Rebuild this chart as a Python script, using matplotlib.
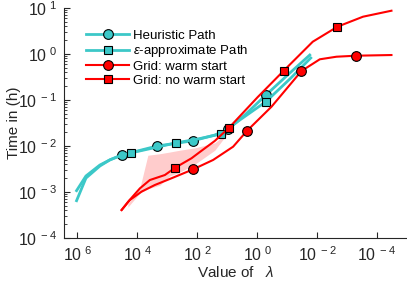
import matplotlib
matplotlib.use("Agg")
import matplotlib.pyplot as plt
import numpy as np

# data (lambda on x, hours on y)
heur_lam = [1.05e6, 5.1e5, 1.75e5, 8.1e4, 3.3e4, 2.15e3, 136, 25.7, 9.3, 2.57, 0.51, 0.081, 0.0175]
heur_time = [1.07e-3, 2.23e-3, 3.86e-3, 5.0e-3, 6.37e-3, 1.0e-2, 1.30e-2, 1.73e-2, 2.31e-2, 4.72e-2, 0.128, 0.386, 0.95]
heur_marks = [4, 5, 6, 8, 10]

eps_lam = [1.05e6, 5.1e5, 1.75e5, 8.1e4, 3.3e4, 1.66e4, 525, 95, 16.6, 3.78, 0.51, 0.081, 0.0162]
eps_time = [6.47e-4, 2.01e-3, 3.67e-3, 5.0e-3, 6.3e-3, 7.05e-3, 1.16e-2, 1.42e-2, 1.82e-2, 3.67e-2, 9.18e-2, 0.286, 0.82]
eps_marks = [5, 6, 8, 10]

warm_lam = [3.3e4, 1.75e4, 7.1e3, 2.57e3, 713, 136, 29.3, 6.3, 2.15, 0.331, 0.0331, 8.1e-3, 2.25e-3, 5.1e-4, 3.3e-5]
warm_time = [4.06e-4, 6.70e-4, 1.02e-3, 1.42e-3, 1.99e-3, 3.11e-3, 4.97e-3, 9.66e-3, 2.15e-2, 7.14e-2, 0.427, 0.767, 0.873, 0.918, 0.95]
warm_marks = [5, 8, 10, 13]

cold_lam = [3.3e4, 2.0e4, 8.1e3, 3.78e3, 1.19e3, 541, 154, 81, 25.7, 8.6, 0.95, 0.129, 0.0139, 2.09e-3, 2.93e-4, 3.3e-5]
cold_time = [4.06e-4, 6.15e-4, 1.20e-3, 1.82e-3, 2.34e-3, 3.37e-3, 5.41e-3, 7.41e-3, 1.29e-2, 2.50e-2, 0.116, 0.434, 1.85, 3.92, 6.47, 8.73]
cold_marks = [5, 9, 11, 13]

band_lam = [2.04e4, 8.1e3, 4.4e3, 1.74e3, 813, 380, 120, 25.7, 9.5]
band_lo = [4.7e-4, 9.5e-4, 1.17e-3, 1.41e-3, 2.24e-3, 2.7e-3, 4.0e-3, 8.1e-3, 1.9e-2]
band_hi = [5.5e-4, 1.23e-3, 6.3e-3, 6.8e-3, 7.4e-3, 8.1e-3, 9.1e-3, 1.17e-2, 2.0e-2]

xticks = [1e6, 1e4, 1e2, 1e0, 1e-2, 1e-4]
yticks = [1e-4, 1e-3, 1e-2, 1e-1, 1e0, 1e1]

plt.rcParams["font.family"] = ["Liberation Sans", "DejaVu Sans"]
plt.rcParams["mathtext.fontset"] = "custom"
plt.rcParams["mathtext.rm"] = "Liberation Sans"
plt.rcParams["mathtext.it"] = "Liberation Sans:italic"

cyan = "#3cc8c8"
red = "#ff0000"
ink = "#262626"

fig = plt.figure(figsize=(4.07, 2.86), dpi=100)
ax = fig.add_axes([64 / 407, 48 / 286, 343 / 407, 230 / 286])

ax.fill_between(band_lam, band_lo, band_hi, color=red, alpha=0.2, lw=0)

ax.plot(heur_lam, heur_time, color=cyan, lw=2, marker="o", ms=7, mfc=cyan, mec="k",
        mew=0.8, markevery=heur_marks, label="Heuristic Path")
ax.plot(eps_lam, eps_time, color=cyan, lw=2, marker="s", ms=6, mfc=cyan, mec="k",
        mew=0.8, markevery=eps_marks, label=r"$\epsilon$-approximate Path")
ax.plot(warm_lam, warm_time, color=red, lw=1.5, marker="o", ms=7, mfc=red, mec="k",
        mew=0.8, markevery=warm_marks, label="Grid: warm start")
ax.plot(cold_lam, cold_time, color=red, lw=1.5, marker="s", ms=6, mfc=red, mec="k",
        mew=0.8, markevery=cold_marks, label="Grid: no warm start")

ax.set_xscale("log")
ax.set_yscale("log")
ax.set_xlim(10 ** 6.44, 1e-5)
ax.set_ylim(1e-4, 1e1)

ax.set_xticks(xticks)
ax.set_xticklabels([r"$\mathregular{10^{\ %d}}$" % round(np.log10(v)) for v in xticks])
ax.xaxis.set_minor_locator(matplotlib.ticker.NullLocator())
ax.set_yticks(yticks)
ax.set_yticklabels([r"$\mathregular{10^{\ %d}}$" % round(np.log10(v)) for v in yticks])

for s in ["top", "right"]:
    ax.spines[s].set_visible(False)
for s in ["left", "bottom"]:
    ax.spines[s].set_color(ink)
    ax.spines[s].set_linewidth(0.8)

ax.tick_params(which="major", direction="in", length=4, width=0.8, labelsize=11.5,
               colors=ink, pad=5)
ax.tick_params(which="minor", direction="in", length=2, width=0.6, colors=ink)

ax.set_xlabel(r"Value of   $\lambda$", fontsize=11, color=ink, labelpad=1)
ax.set_ylabel("Time in (h)", fontsize=11, color=ink)
ax.yaxis.set_label_coords(-0.125, 0.5)

ax.legend(loc="upper left", bbox_to_anchor=(0.05, 0.93), frameon=False, fontsize=9.5,
          handlelength=3.2, handletextpad=0.3, labelspacing=0.12, borderaxespad=0)

fig.savefig("out.png", dpi=100)
